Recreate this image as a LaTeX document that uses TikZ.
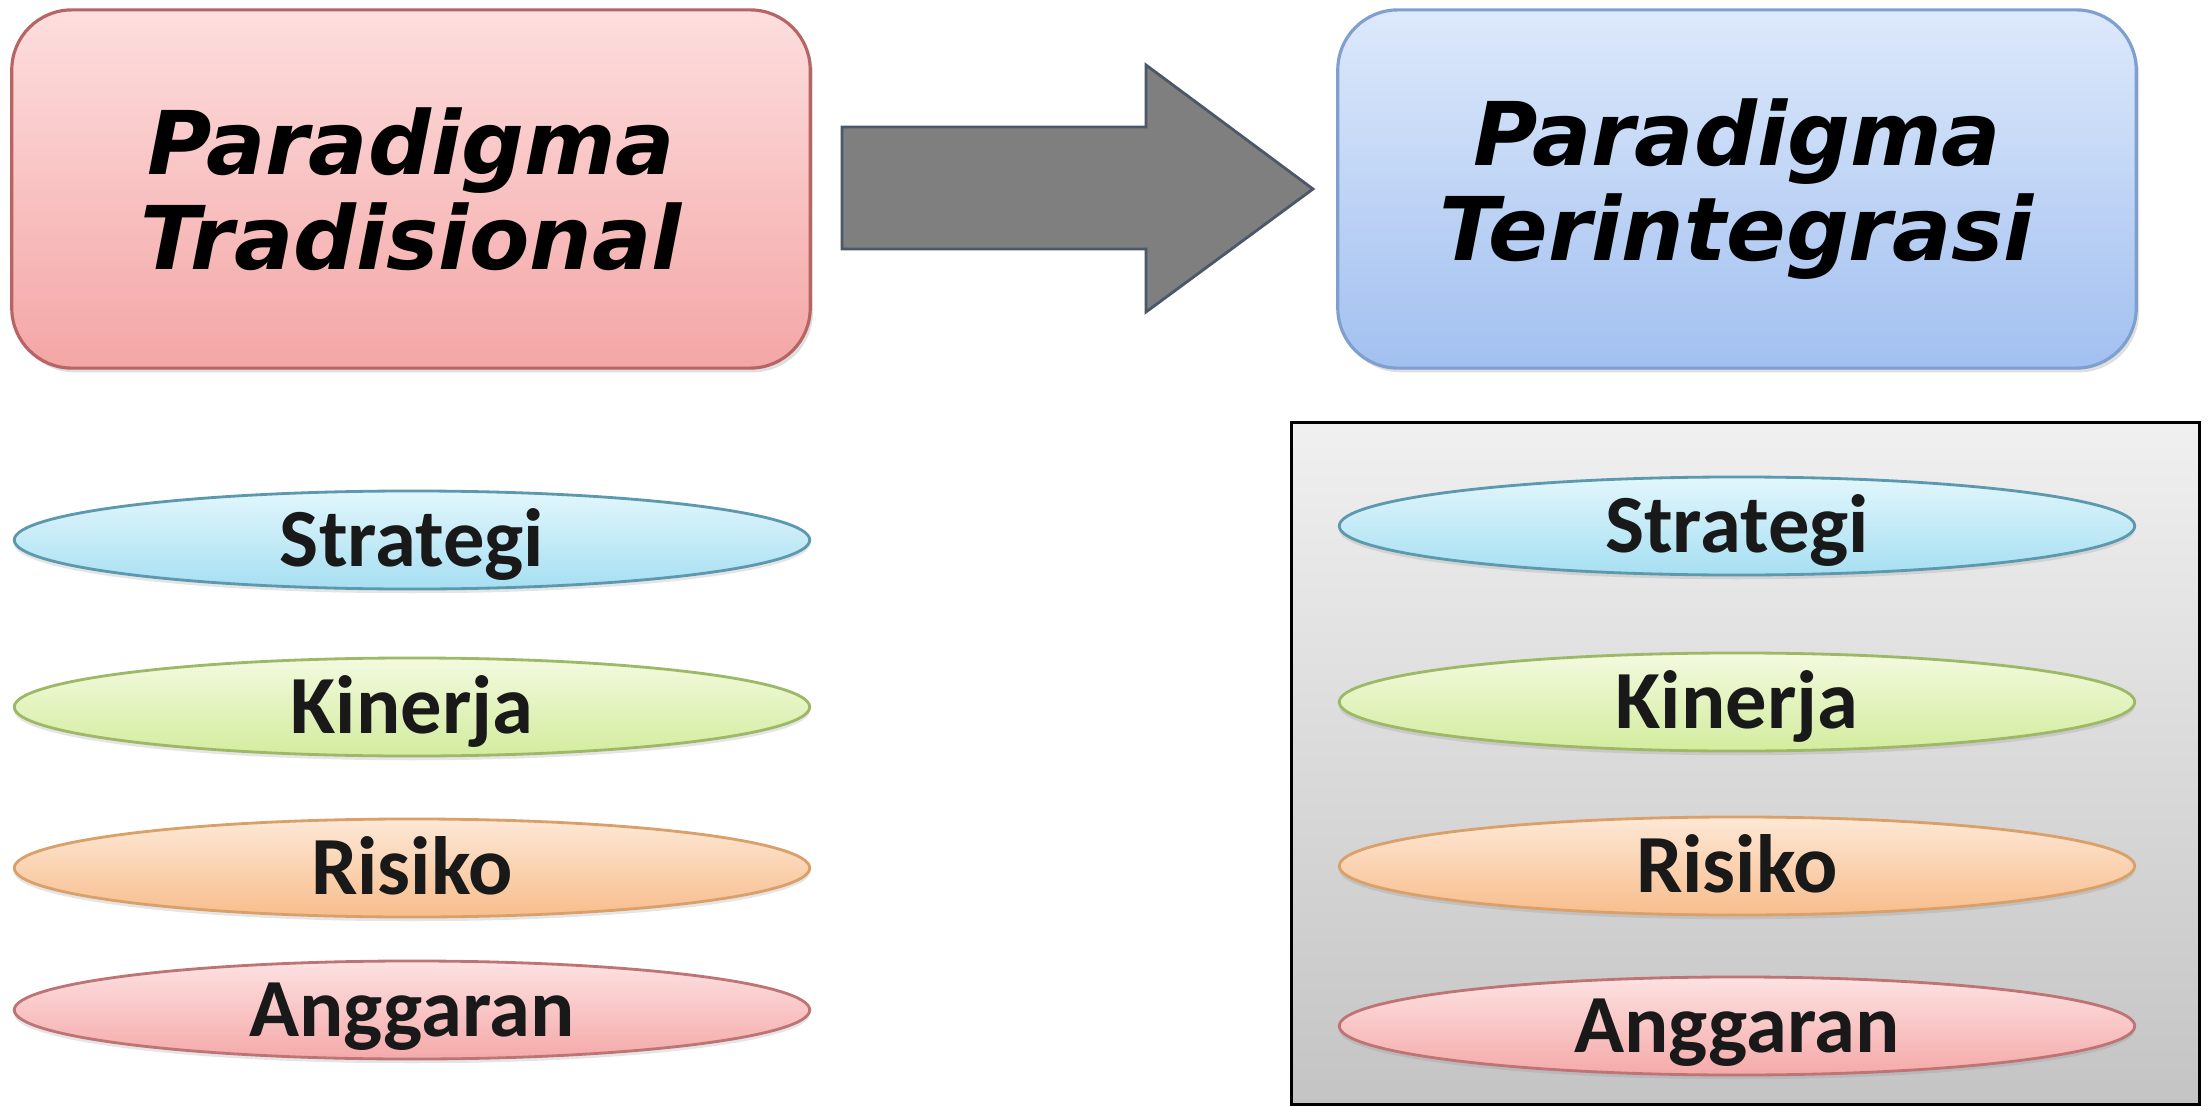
\documentclass[tikz,border=0pt]{standalone}
\usepackage{fontspec}
\usetikzlibrary{shapes.geometric,shadows}
\newfontfamily\titlefont{DejaVu Sans}
\newfontfamily\labelfont{Carlito}
\definecolor{redtop}{HTML}{FDDEDE}
\definecolor{redbot}{HTML}{F4A6A6}
\definecolor{redline}{HTML}{B86464}
\definecolor{bluetop}{HTML}{DDE9FB}
\definecolor{bluebot}{HTML}{A2C0F0}
\definecolor{blueline}{HTML}{7F9FCF}
\definecolor{arrowfill}{HTML}{7F7F7F}
\definecolor{arrowline}{HTML}{4C5868}
\definecolor{cyantop}{HTML}{E2F6FC}
\definecolor{cyanbot}{HTML}{A6DFF2}
\definecolor{cyanline}{HTML}{5C98AE}
\definecolor{greentop}{HTML}{F3FADF}
\definecolor{greenbot}{HTML}{D3EC9E}
\definecolor{greenline}{HTML}{9DB866}
\definecolor{orangetop}{HTML}{FDE8D6}
\definecolor{orangebot}{HTML}{F8BD8C}
\definecolor{orangeline}{HTML}{D9A06A}
\definecolor{pinktop}{HTML}{FDE2E2}
\definecolor{pinkbot}{HTML}{F5A9A9}
\definecolor{pinkline}{HTML}{BE7474}
\definecolor{paneltop}{HTML}{F0F0F0}
\definecolor{panelbot}{HTML}{C4C4C4}
\tikzset{
  titlebox/.style={rectangle, rounded corners=0.6cm, minimum width=7.98cm,
    minimum height=3.58cm, align=center, inner sep=0pt, line width=0.9pt,
    font=\titlefont\bfseries\itshape\fontsize{25}{27}\selectfont,
    drop shadow={shadow xshift=0.8pt, shadow yshift=-1.2pt, opacity=0.25}},
  pill/.style={ellipse, minimum width=7.95cm, minimum height=0.98cm,
    inner sep=0pt, line width=0.8pt, text=black!90,
    font=\labelfont\bfseries\fontsize{23.5}{26}\selectfont,
    text height=15pt, text depth=0pt,
    drop shadow={shadow xshift=0pt, shadow yshift=-1.2pt, opacity=0.2}},
  stratpill/.style={pill, draw=cyanline, top color=cyantop, bottom color=cyanbot},
  kinpill/.style={pill, draw=greenline, top color=greentop, bottom color=greenbot},
  riskpill/.style={pill, draw=orangeline, top color=orangetop, bottom color=orangebot},
  budgpill/.style={pill, draw=pinkline, top color=pinktop, bottom color=pinkbot},
}
\begin{document}
\begin{tikzpicture}[x=0.01cm,y=-0.01cm]
\useasboundingbox (0,0) rectangle (2208,1106);
\fill[white] (0,0) rectangle (2208,1106);

% gray panel
\node[draw=black, line width=0.9pt, top color=paneltop, bottom color=panelbot,
  rectangle, inner sep=0pt, minimum width=9.07cm, minimum height=6.81cm]
  (panel) at (1745.5,763.5) {};

% top boxes
\node[titlebox, draw=redline, top color=redtop, bottom color=redbot]
  (trad) at (411,189) {Paradigma\\Tradisional};
\node[titlebox, draw=blueline, top color=bluetop, bottom color=bluebot]
  (integ) at (1737,189) {Paradigma\\Terintegrasi};

% block arrow
\coordinate (tip) at (1313,189);
\draw[fill=arrowfill, draw=arrowline, line width=0.8pt, line join=miter]
  (842,127) -- (1146,127) -- (1146,65) -- (tip) -- (1146,312)
  -- (1146,249) -- (842,249) -- cycle;

% left column
\node[stratpill] (ls) at (412,540) {Strategi};
\node[kinpill]   (lk) at (412,707) {Kinerja};
\node[riskpill]  (lr) at (412,868) {Risiko};
\node[budgpill]  (la) at (412,1010) {Anggaran};

% right column
\node[stratpill] (rs) at (1737,526) {Strategi};
\node[kinpill]   (rk) at (1737,702) {Kinerja};
\node[riskpill]  (rr) at (1737,866) {Risiko};
\node[budgpill]  (ra) at (1737,1026) {Anggaran};
\end{tikzpicture}
\end{document}
